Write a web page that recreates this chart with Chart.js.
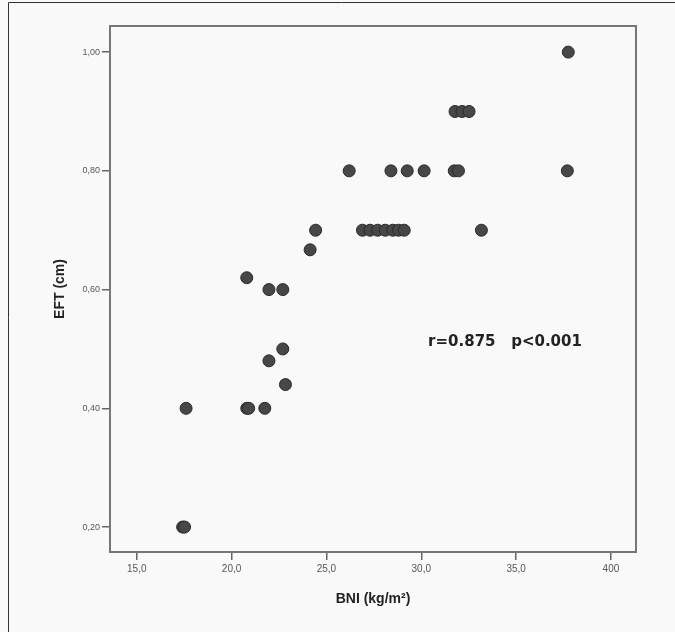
<!DOCTYPE html>
<html>
<head>
<meta charset="utf-8">
<script src="https://cdn.jsdelivr.net/npm/chart.js@4.4.1/dist/chart.umd.min.js"></script>
<style>
  html, body { margin: 0; padding: 0; background: #f9f9f9; }
  #wrap { width: 675px; height: 632px; position: relative; }
</style>
</head>
<body>
<div id="wrap"><canvas id="c" width="675" height="632"></canvas></div>
<script>
// BNI (kg/m²) values
const bniValues = [
  37.75,
  31.78, 32.15, 32.52,
  26.2, 28.4, 29.26, 30.15, 31.74, 31.96, 37.7,
  24.43, 26.9, 27.3, 27.7, 28.1, 28.5, 28.8, 29.1, 33.17,
  24.14,
  20.8,
  21.97, 22.7,
  22.7,
  21.97,
  22.84,
  17.6, 20.8, 20.9, 21.75,
  17.42, 17.52
];
// EFT (cm) values
const eftValues = [
  1.00,
  0.90, 0.90, 0.90,
  0.80, 0.80, 0.80, 0.80, 0.80, 0.80, 0.80,
  0.70, 0.70, 0.70, 0.70, 0.70, 0.70, 0.70, 0.70, 0.70,
  0.667,
  0.62,
  0.60, 0.60,
  0.50,
  0.48,
  0.44,
  0.40, 0.40, 0.40, 0.40,
  0.20, 0.20
];
const xTickValues = [15, 20, 25, 30, 35, 40];
const xTickLabels = ['15,0', '20,0', '25,0', '30,0', '35,0', '400'];
const yTickValues = [0.2, 0.4, 0.6, 0.8, 1.0];
const yTickLabels = ['0,20', '0,40', '0,60', '0,80', '1,00'];
const xTitle = 'BNI (kg/m²)';
const yTitle = 'EFT (cm)';
const annotationText = 'r=0.875   p<0.001';
const annotationPos = { x: 30.36, y: 0.512 };

const points = bniValues.map((x, i) => ({ x: x, y: eftValues[i] }));

const decorPlugin = {
  id: 'decor',
  beforeDraw(chart) {
    const ctx = chart.ctx;
    ctx.save();
    ctx.fillStyle = '#f9f9f9';
    ctx.fillRect(0, 0, chart.width, chart.height);
    ctx.strokeStyle = '#333';
    ctx.lineWidth = 1;
    ctx.beginPath();
    ctx.moveTo(8.5, chart.height);
    ctx.lineTo(8.5, 2.5);
    ctx.lineTo(chart.width, 2.5);
    ctx.stroke();
    ctx.restore();
  },
  afterDatasetsDraw(chart) {
    const ctx = chart.ctx;
    const a = chart.chartArea;
    ctx.save();
    ctx.strokeStyle = '#777';
    ctx.lineWidth = 2;
    ctx.strokeRect(a.left, a.top, a.right - a.left, a.bottom - a.top);
    const xs = chart.scales.x, ys = chart.scales.y;
    ctx.fillStyle = '#222';
    ctx.font = 'bold 15px "DejaVu Sans", sans-serif';
    ctx.textAlign = 'left';
    ctx.textBaseline = 'middle';
    ctx.fillText(annotationText, xs.getPixelForValue(annotationPos.x), ys.getPixelForValue(annotationPos.y));
    ctx.restore();
  }
};

new Chart(document.getElementById('c'), {
  type: 'scatter',
  data: {
    datasets: [{
      data: points,
      backgroundColor: '#474747',
      borderColor: '#2a2a2a',
      borderWidth: 1,
      pointRadius: 6,
      pointHoverRadius: 6
    }]
  },
  options: {
    responsive: false,
    animation: false,
    devicePixelRatio: 1,
    layout: { padding: { left: 0, right: 39, top: 26, bottom: 0 } },
    plugins: { legend: { display: false }, tooltip: { enabled: false } },
    scales: {
      x: {
        type: 'linear',
        min: 13.59,
        max: 41.32,
        afterBuildTicks(scale) { scale.ticks = xTickValues.map(v => ({ value: v })); },
        afterFit(scale) { scale.height = 80; },
        ticks: {
          callback(v) { const i = xTickValues.indexOf(v); return i >= 0 ? xTickLabels[i] : ''; },
          font: { size: 10, family: 'Arial, "Liberation Sans", sans-serif' },
          color: '#555',
          padding: 3,
          maxRotation: 0,
          autoSkip: false
        },
        grid: { display: true, drawOnChartArea: false, drawTicks: true, tickLength: 8, color: '#666', lineWidth: 1.5 },
        border: { display: true, color: '#777', width: 2 },
        title: {
          display: true,
          text: xTitle,
          font: { size: 14, weight: 'bold', family: 'Arial, "Liberation Sans", sans-serif' },
          color: '#222',
          padding: { top: 24, bottom: 24 }
        }
      },
      y: {
        type: 'linear',
        min: 0.158,
        max: 1.044,
        afterBuildTicks(scale) { scale.ticks = yTickValues.map(v => ({ value: v })); },
        afterFit(scale) { scale.width = 110; },
        ticks: {
          callback(v) { const i = yTickValues.findIndex(t => Math.abs(t - v) < 1e-6); return i >= 0 ? yTickLabels[i] : ''; },
          font: { size: 9, family: 'Arial, "Liberation Sans", sans-serif' },
          color: '#555',
          padding: 2,
          autoSkip: false
        },
        grid: { display: true, drawOnChartArea: false, drawTicks: true, tickLength: 8, color: '#666', lineWidth: 1.5 },
        border: { display: true, color: '#777', width: 2 },
        title: {
          display: true,
          text: yTitle,
          font: { size: 14, weight: 'bold', family: 'Arial, "Liberation Sans", sans-serif' },
          color: '#222',
          padding: { top: 52, bottom: 52 }
        }
      }
    }
  },
  plugins: [decorPlugin]
});
</script>
</body>
</html>
